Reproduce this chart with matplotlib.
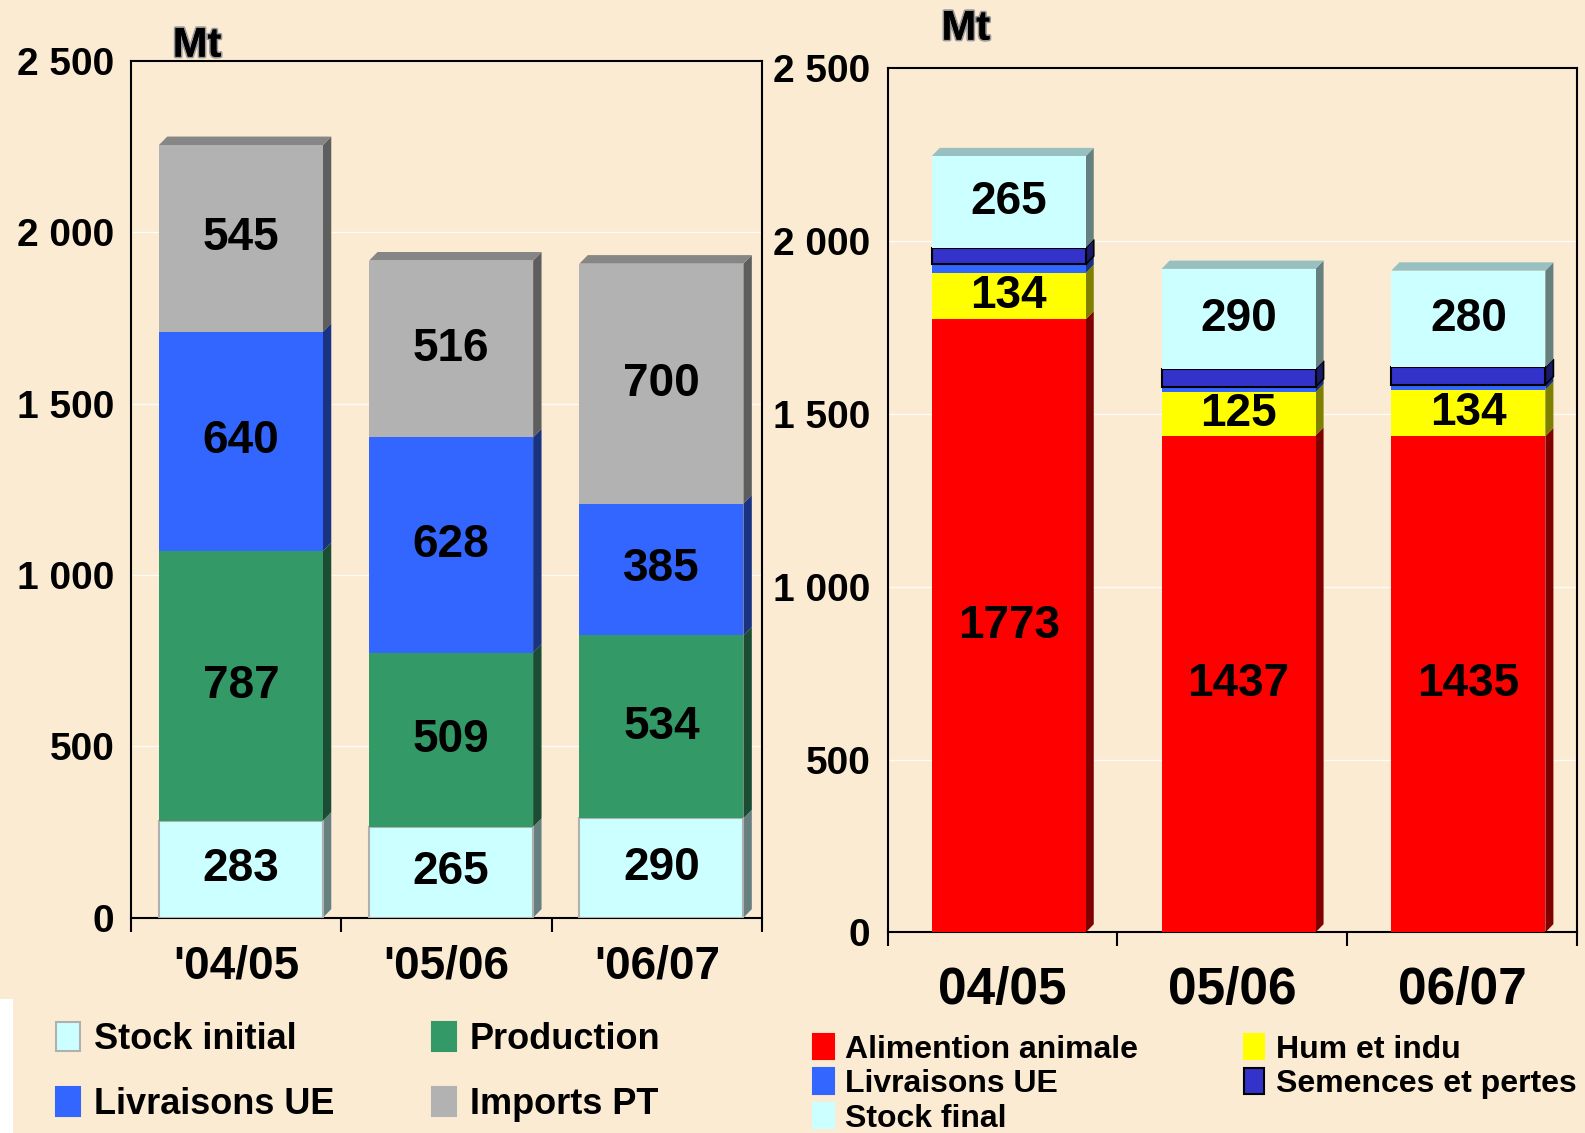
import matplotlib
matplotlib.use("Agg")
import matplotlib.pyplot as plt
import matplotlib.patheffects as pe
from matplotlib.patches import Polygon, Patch
from matplotlib import font_manager

# police etroite si dispo
try:
    font_manager.findfont("Liberation Sans Narrow", fallback_to_default=False)
    NARROW = "Liberation Sans Narrow"
except Exception:
    NARROW = "Liberation Sans"
WIDE = "Liberation Sans"
plt.rcParams["font.family"] = [NARROW, "DejaVu Sans"]
plt.rcParams["font.weight"] = "bold"

BG = "#FBEBD2"

# donnees panneau gauche (ressources)
campagnes_g = ["'04/05", "'05/06", "'06/07"]
stock_initial = [283, 265, 290]
production = [787, 509, 534]
livraisons_g = [640, 628, 385]
imports_pt = [545, 516, 700]

# donnees panneau droit (emplois)
campagnes_d = ["04/05", "05/06", "06/07"]
alim_animale = [1773, 1437, 1435]
hum_indu = [134, 125, 134]
livraisons_d = [25, 15, 15]
semences = [48, 52, 50]
stock_final = [265, 290, 280]

# (nom, valeurs, face, cote, dessus, bord, etiquette?)
series_g = [
    ("Stock initial", stock_initial, "#CCFFFF", "#668080", "#99C0C0", "#B0B0B0", True),
    ("Production", production, "#339966", "#1A4D33", "#267350", None, True),
    ("Livraisons UE", livraisons_g, "#3366FF", "#1A3380", "#264DBF", None, True),
    ("Imports PT", imports_pt, "#B2B2B2", "#5E5E5E", "#868686", None, True),
]
series_d = [
    ("Alimention animale", alim_animale, "#FF0000", "#800000", "#BF0000", None, True),
    ("Hum et indu", hum_indu, "#FFFF00", "#808000", "#BFBF00", None, True),
    ("Livraisons UE", livraisons_d, "#3366FF", "#1A3380", "#264DBF", None, False),
    ("Semences et pertes", semences, "#3333CC", "#1A1A66", "#262699", "black", False),
    ("Stock final", stock_final, "#CCFFFF", "#668080", "#99C0C0", None, True),
]


def barres_3d(ax, labels, series, width, dx, dy, fs, shift):
    n = len(labels)
    bottoms = [0] * n
    for k, (nom, vals, face, side, top, edge, show) in enumerate(series):
        last = k == len(series) - 1
        for i in range(n):
            xc = i + shift
            y0 = bottoms[i]
            y1 = y0 + vals[i]
            xl = xc - width / 2
            xr = xc + width / 2
            ax.bar(xc, vals[i], width=width, bottom=y0, color=face,
                   edgecolor=edge if edge else "none", linewidth=1.5 if edge else 0,
                   zorder=3)
            ax.add_patch(Polygon([(xr, y0), (xr + dx, y0 + dy), (xr + dx, y1 + dy), (xr, y1)],
                                 closed=True, facecolor=side,
                                 edgecolor=edge if edge == "black" else "none",
                                 linewidth=1.2, zorder=2))
            if last:
                ax.add_patch(Polygon([(xl, y1), (xl + dx, y1 + dy), (xr + dx, y1 + dy), (xr, y1)],
                                     closed=True, facecolor=top, edgecolor="none", zorder=2))
            if show:
                ax.text(xc, (y0 + y1) / 2, str(vals[i]), ha="center", va="center",
                        fontsize=fs, fontweight="bold", color="black", zorder=5)
            bottoms[i] = y1


def habiller(ax, labels, xfs, xpad, ypad):
    ax.set_facecolor(BG)
    ax.set_xlim(-0.5, len(labels) - 0.5)
    ax.set_ylim(0, 2500)
    ax.set_yticks([0, 500, 1000, 1500, 2000, 2500])
    ax.set_yticklabels(["0", "500", "1 000", "1 500", "2 000", "2 500"])
    ax.tick_params(axis="y", length=0, pad=ypad, labelsize=28)
    ax.set_xticks(range(len(labels)))
    ax.set_xticklabels(labels, fontsize=xfs, fontweight="bold")
    ax.set_xticks([-0.5, 0.5, 1.5, 2.5], minor=True)
    ax.tick_params(axis="x", which="major", length=0, pad=xpad)
    ax.tick_params(axis="x", which="minor", length=10, width=1.5, direction="out")
    for s in ax.spines.values():
        s.set_linewidth(1.5)
        s.set_color("black")
    ax.grid(axis="y", color="white", alpha=0.8, linewidth=1, zorder=0)
    ax.set_axisbelow(True)


fig = plt.figure(figsize=(15.85, 11.33), dpi=100)
fig.patch.set_facecolor(BG)

axg = fig.add_axes([0.0827, 0.190, 0.398, 0.756])
axd = fig.add_axes([0.560, 0.177, 0.435, 0.763])

barres_3d(axg, campagnes_g, series_g, 0.78, 0.04, 25, 33, 0.022)
barres_3d(axd, campagnes_d, series_d, 0.67, 0.035, 24, 33, 0.027)
habiller(axg, campagnes_g, 33, 19, 12)
habiller(axd, campagnes_d, 37, 24, 12.5)

ombre = [pe.withStroke(linewidth=2.5, foreground="#9A9A9A"), pe.Normal()]
fig.text(0.109, 0.950, "Mt", fontsize=30, fontweight="bold", path_effects=ombre)
fig.text(0.594, 0.965, "Mt", fontsize=30, fontweight="bold", path_effects=ombre)

# bande blanche en bas a gauche
fig.patches.append(plt.Rectangle((0, 0), 0.008, 0.118, transform=fig.transFigure,
                                 facecolor="white", edgecolor="none"))

# legendes
hg = [Patch(facecolor=s[2], edgecolor=s[5] if s[5] else s[2], linewidth=1.5) for s in series_g]
ng = [s[0] for s in series_g]
ordre_g = [0, 2, 1, 3]
lg = fig.legend([hg[i] for i in ordre_g], [ng[i] for i in ordre_g], ncol=2,
                loc="upper left", bbox_to_anchor=(0.015, 0.127), frameon=False,
                prop={"family": WIDE, "weight": "bold", "size": 26},
                handlelength=0.65, handleheight=0.85, handletextpad=0.4,
                columnspacing=2.7, labelspacing=0.85)

hd = [Patch(facecolor=s[2], edgecolor=s[5] if s[5] else s[2], linewidth=1.5) for s in series_d]
nd = [s[0] for s in series_d]
ordre_d = [0, 2, 4, 1, 3]
ld = fig.legend([hd[i] for i in ordre_d], [nd[i] for i in ordre_d], ncol=2,
                loc="upper left", bbox_to_anchor=(0.495, 0.113), frameon=False,
                prop={"family": WIDE, "weight": "bold", "size": 23},
                handlelength=0.65, handleheight=0.85, handletextpad=0.35,
                columnspacing=3.3, labelspacing=0.12)

fig.savefig("out.png", dpi=100, facecolor=BG)
